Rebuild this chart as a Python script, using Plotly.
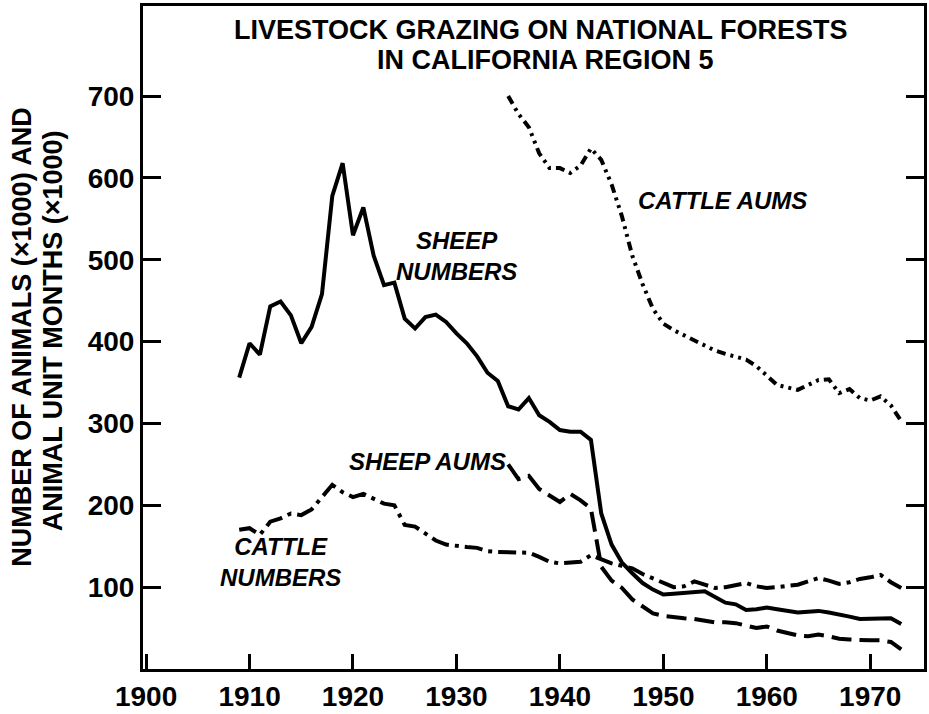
import plotly.graph_objects as go

# ---- data (values in thousands) ----
sheep_num_years = list(range(1909, 1974))
sheep_numbers = [356, 398, 384, 443, 449, 432, 398, 418, 458, 578, 618, 530, 564, 505, 469,
                 472, 428, 416, 430, 433, 424, 410, 398, 382, 362, 352, 321, 317, 331, 310,
                 302, 292, 290, 290, 280, 190, 152, 130, 117, 105, 97, 91, 92, 93, 94,
                 95, 88, 81, 79, 72, 73, 75, 73, 71, 69, 70, 71, 69, 67, 64,
                 61, 61, 62, 62, 55]

cattle_num_years = list(range(1909, 1974))
cattle_numbers = [170, 172, 164, 180, 184, 190, 188, 195, 210, 225, 216, 210, 214, 208, 202,
                  200, 176, 174, 165, 157, 152, 150, 149, 148, 144, 143, 143, 143, 142, 137,
                  131, 129, 130, 131, 139, 134, 129, 126, 123, 116, 111, 105, 100, 101, 107,
                  103, 99, 100, 103, 105, 101, 99, 100, 102, 103, 107, 111, 108, 104, 106,
                  110, 112, 115, 106, 99]

aum_years = list(range(1935, 1974))
sheep_aums = [250, 232, 236, 220, 212, 204, 214, 206, 196, 125, 108, 99, 85, 76, 68,
              65, 63, 62, 61, 59, 57, 57, 56, 53, 50, 52, 47, 44, 41, 40,
              42, 40, 37, 36, 35, 35, 35, 33, 24]
cattle_aums = [700, 678, 662, 630, 612, 612, 606, 615, 636, 622, 592, 553, 505, 470, 440,
               422, 414, 408, 402, 395, 389, 385, 382, 378, 370, 358, 347, 344, 341, 347,
               353, 354, 337, 342, 331, 328, 333, 322, 303]

x_ticks = [1900, 1910, 1920, 1930, 1940, 1950, 1960, 1970]
y_ticks = [100, 200, 300, 400, 500, 600, 700]

LW = 4
fig = go.Figure()
fig.add_trace(go.Scatter(x=sheep_num_years, y=sheep_numbers, mode="lines",
                         line=dict(color="black", width=LW), name="Sheep numbers"))
fig.add_trace(go.Scatter(x=aum_years, y=sheep_aums, mode="lines",
                         line=dict(color="black", width=LW, dash="20px,8px"), name="Sheep AUMs"))
fig.add_trace(go.Scatter(x=cattle_num_years, y=cattle_numbers, mode="lines",
                         line=dict(color="black", width=LW, dash="18px,6px,4px,6px"), name="Cattle numbers"))
fig.add_trace(go.Scatter(x=aum_years, y=cattle_aums, mode="lines",
                         line=dict(color="black", width=LW, dash="9px,5px,3px,5px,3px,5px"), name="Cattle AUMs"))

lab_font = dict(family="Liberation Sans", size=24, color="black", weight="bold", style="italic")
for txt, xx, yy in [("SHEEP<br>NUMBERS", 1930.0, 505),
                    ("CATTLE AUMS", 1955.7, 572),
                    ("SHEEP AUMS", 1927.2, 253),
                    ("CATTLE<br>NUMBERS", 1913.0, 131)]:
    fig.add_annotation(x=xx, y=yy, xref="x", yref="y", text=txt, showarrow=False,
                       font=lab_font, align="center", xanchor="center", yanchor="middle")

title_font = dict(family="Liberation Sans", size=27, color="black", weight="bold")
fig.add_annotation(x=0.509, y=0.964, xref="paper", yref="paper", showarrow=False,
                   text="LIVESTOCK GRAZING ON NATIONAL FORESTS", font=title_font,
                   xanchor="center", yanchor="middle")
fig.add_annotation(x=0.516, y=0.919, xref="paper", yref="paper", showarrow=False,
                   text="IN CALIFORNIA REGION 5", font=title_font,
                   xanchor="center", yanchor="middle")

ytitle_font = dict(family="Liberation Sans", size=27, color="black", weight="bold")
fig.add_annotation(x=-0.156, y=0.50, xref="paper", yref="paper", showarrow=False,
                   text="NUMBER OF ANIMALS (×1000) AND", textangle=-90, font=ytitle_font,
                   xanchor="center", yanchor="middle")
fig.add_annotation(x=-0.116, y=0.51, xref="paper", yref="paper", showarrow=False,
                   text="ANIMAL UNIT MONTHS (×1000)", textangle=-90, font=ytitle_font,
                   xanchor="center", yanchor="middle")

tick_font = dict(family="Liberation Sans", size=28, color="black", weight="bold")
fig.update_layout(
    width=929, height=714,
    margin=dict(l=143, r=2, t=6, b=39),
    paper_bgcolor="white", plot_bgcolor="white",
    showlegend=False,
    xaxis=dict(range=[1899.7, 1975.2], tickvals=x_ticks, ticktext=[str(v) for v in x_ticks],
               ticks="inside", ticklen=15, tickwidth=3, tickcolor="black",
               showline=True, linecolor="black", linewidth=3, mirror=True,
               showgrid=False, zeroline=False, tickfont=tick_font),
    yaxis=dict(range=[0, 810], tickvals=y_ticks, ticktext=[str(v) for v in y_ticks],
               ticks="inside", ticklen=18, tickwidth=3, tickcolor="black",
               showline=True, linecolor="black", linewidth=3, mirror="ticks",
               showgrid=False, zeroline=False, tickfont=tick_font),
)

fig.write_html("out.html", config={"displayModeBar": False},
               post_script="document.body.style.margin='0';document.body.style.overflow='hidden';")
